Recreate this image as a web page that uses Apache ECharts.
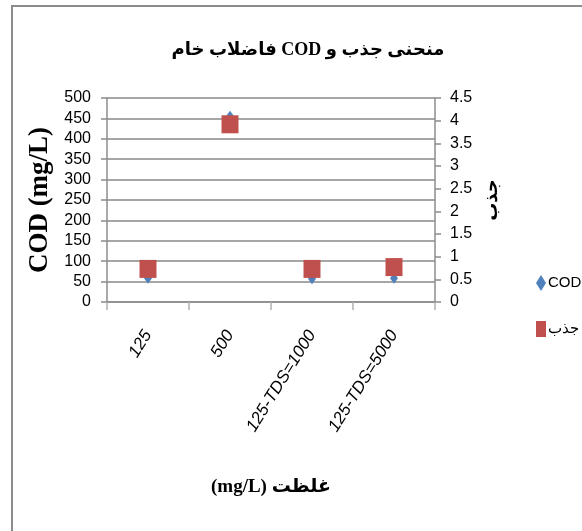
<!DOCTYPE html>
<html dir="ltr">
<head>
<meta charset="utf-8">
<script src="https://cdn.jsdelivr.net/npm/echarts@6/dist/echarts.min.js"></script>
<style>
  html, body { margin: 0; padding: 0; background: #fff; }
  #chart { width: 582px; height: 531px; }
</style>
</head>
<body>
<div id="chart"></div>
<script>
// categories and values
var categories = ['125', '500', '125-TDS=1000', '125-TDS=5000'];
var codValues = [58, 455, 57, 58];
var jazbValues = [0.73, 3.92, 0.73, 0.77];
var codTicks = { min: 0, max: 500, interval: 50 };
var jazbTicks = { min: 0, max: 4.5, interval: 0.5 };

var tickFont = 'Liberation Sans Narrow, Liberation Sans, Arial, sans-serif';
var titleFont = 'Liberation Serif, DejaVu Sans, serif';

// canvas text is laid out left-to-right, wrap Persian strings in a RTL embedding
function rtl(s) { return '\u202B' + s + '\u202C'; }

var myChart = echarts.init(document.getElementById('chart'));

var option = {
  backgroundColor: '#fff',
  animation: false,
  title: {
    text: rtl('منحنی جذب و COD فاضلاب خام'),
    left: 303,
    top: 36,
    textAlign: 'center',
    textStyle: { fontFamily: titleFont, fontSize: 18, fontWeight: 'bold', color: '#000' }
  },
  graphic: [{
    type: 'rect',
    shape: { x: 12, y: 6, width: 600, height: 560 },
    style: { fill: 'none', stroke: '#8c8c8c', lineWidth: 2 },
    silent: true
  }],
  legend: {
    orient: 'vertical',
    left: 531,
    top: 270,
    itemGap: 30,
    itemWidth: 10,
    itemHeight: 16,
    textStyle: { fontFamily: tickFont, fontSize: 15, color: '#000', padding: [0, 0, 0, -3] },
    data: [
      { name: 'COD', icon: 'diamond' },
      { name: 'جذب', icon: 'rect' }
    ]
  },
  grid: { left: 107, right: 147, top: 98, bottom: 229, containLabel: false },
  xAxis: {
    type: 'category',
    data: categories,
    boundaryGap: true,
    name: rtl('غلظت (mg/L)'),
    nameLocation: 'middle',
    nameGap: 176,
    nameTextStyle: { fontFamily: titleFont, fontSize: 19, fontWeight: 'bold', color: '#000' },
    axisLine: { lineStyle: { color: '#8c8c8c', width: 1.5 } },
    axisTick: { show: true, length: 8, lineStyle: { color: '#b0b0b0', width: 1.5 } },
    axisLabel: {
      rotate: 58,
      margin: 30,
      fontFamily: tickFont,
      fontStyle: 'italic',
      fontSize: 17,
      color: '#000'
    }
  },
  yAxis: [{
    type: 'value',
    position: 'left',
    min: codTicks.min,
    max: codTicks.max,
    interval: codTicks.interval,
    name: 'COD (mg/L)',
    nameLocation: 'middle',
    nameGap: 35,
    nameRotate: 90,
    nameTextStyle: { fontFamily: titleFont, fontSize: 27, fontWeight: 'bold', color: '#000' },
    axisLine: { show: true, lineStyle: { color: '#8c8c8c', width: 1.5 } },
    axisTick: { show: true, length: 6, lineStyle: { color: '#8c8c8c', width: 1.5 } },
    axisLabel: { fontFamily: tickFont, fontSize: 16, color: '#000', margin: 16 },
    splitLine: { show: true, lineStyle: { color: '#888', width: 1.6 } }
  }, {
    type: 'value',
    position: 'right',
    min: jazbTicks.min,
    max: jazbTicks.max,
    interval: jazbTicks.interval,
    name: 'جذب',
    nameLocation: 'middle',
    nameGap: 48,
    nameRotate: 90,
    nameTextStyle: { fontFamily: titleFont, fontSize: 18, fontWeight: 'bold', color: '#000' },
    axisLine: { show: true, lineStyle: { color: '#8c8c8c', width: 1.5 } },
    axisTick: { show: true, length: 6, lineStyle: { color: '#8c8c8c', width: 1.5 } },
    axisLabel: { fontFamily: tickFont, fontSize: 16, color: '#000', margin: 15 },
    splitLine: { show: false }
  }],
  series: [
    {
      name: 'COD',
      type: 'scatter',
      yAxisIndex: 0,
      symbol: 'diamond',
      symbolSize: [8, 11],
      itemStyle: { color: '#4f81bd', opacity: 1 },
      data: codValues
    },
    {
      name: 'جذب',
      type: 'scatter',
      yAxisIndex: 1,
      symbol: 'rect',
      symbolSize: [17, 18],
      itemStyle: { color: '#c0504d', opacity: 1 },
      data: jazbValues
    }
  ]
};

myChart.setOption(option);
</script>
</body>
</html>
